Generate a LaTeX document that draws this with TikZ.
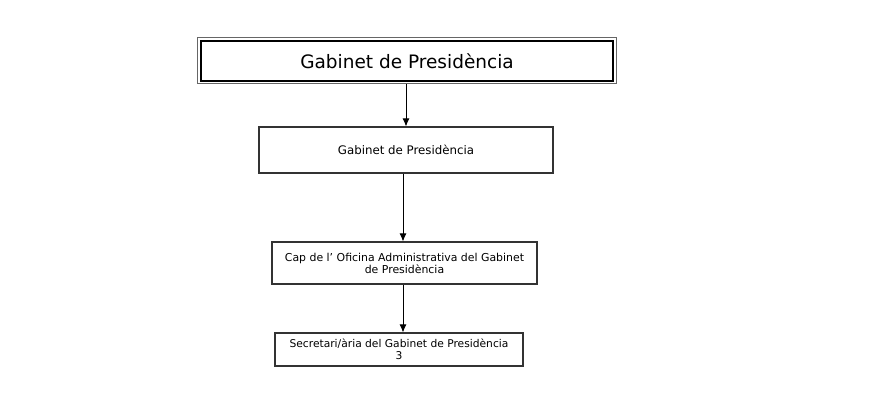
\documentclass[tikz,border=0pt]{standalone}
\usepackage{fontspec}
\setmainfont{DejaVu Sans}
\usetikzlibrary{arrows.meta}
\begin{document}
\begin{tikzpicture}[x=1pt,y=-1pt,
  box/.style={draw=black!80,line width=1.1pt,rectangle,inner sep=0pt,align=center},
  arr/.style={draw=black,line width=0.9pt,-{Latex[length=8pt,width=7pt]}}]
\useasboundingbox (0,0) rectangle (893,418);
\fill[white] (0,0) rectangle (893,418);
% top box
\node[draw=black!60,line width=0.9pt,minimum width=419pt,minimum height=46pt,inner sep=0pt] (top) at (407,60.5) {};
\node[draw=black,line width=2.8pt,minimum width=412pt,minimum height=40pt,inner sep=0pt,font=\fontsize{18.5}{22}\selectfont] (topin) at (407,61) {Gabinet de Presidència};
\node[box,minimum width=294pt,minimum height=46pt,font=\fontsize{11.8}{14}\selectfont] (b2) at (406,150) {Gabinet de Presidència};
\node[box,minimum width=265pt,minimum height=42pt,font=\fontsize{10.9}{12}\selectfont] (b3) at (404.5,263) {Cap de l’ Oficina Administrativa del Gabinet\\de Presidència};
\node[box,minimum width=248pt,minimum height=33pt,font=\fontsize{10.7}{12}\selectfont] (b4) at (399,349.5) {Secretari/ària del Gabinet de Presidència\\3};
\draw[arr] (top.south -| 406,0) -- (b2.north -| 406,0);
\draw[arr] (b2.south -| 403,0) -- (b3.north -| 403,0);
\draw[arr] (b3.south -| 403,0) -- (b4.north -| 403,0);
\end{tikzpicture}
\end{document}
